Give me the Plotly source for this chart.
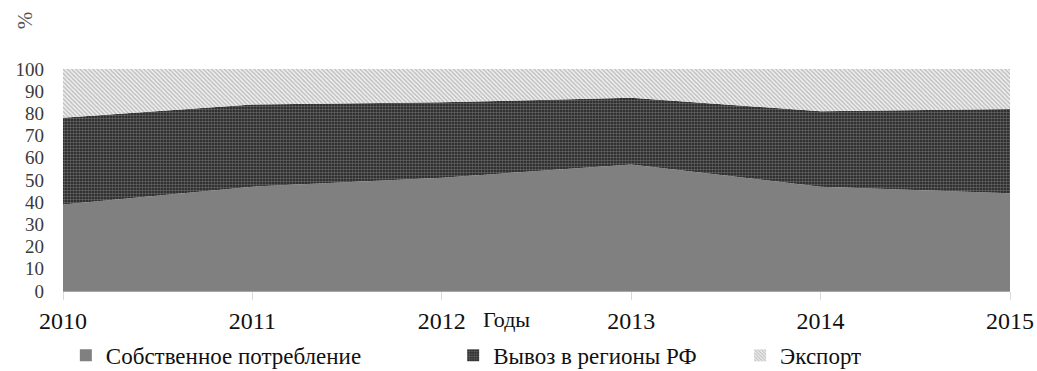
import plotly.graph_objects as go

# Structure of shipments by year, percent of total
years = [2010, 2011, 2012, 2013, 2014, 2015]
own_use = [39, 47, 51, 57, 47, 44]          # Собственное потребление
to_regions = [39, 37, 34, 30, 34, 38]       # Вывоз в регионы РФ
export = [22, 16, 15, 13, 19, 18]           # Экспорт
y_ticks = list(range(0, 101, 10))

names = ["Собственное потребление", "Вывоз в регионы РФ", "Экспорт"]
series = [own_use, to_regions, export]
patterns = [
    dict(shape="", bgcolor="#808080", fgcolor="#808080"),
    dict(shape=".", bgcolor="#1c1c1c", fgcolor="#a8a8a8", size=3, solidity=0.55),
    dict(shape="\\", bgcolor="#f2f2f2", fgcolor="#8c8c8c", size=3, solidity=0.5),
]
fills = ["#808080", "#3c3c3c", "#c4c4c4"]

fig = go.Figure()
for name, vals, pat, col in zip(names, series, patterns, fills):
    fig.add_trace(go.Scatter(
        x=years, y=vals, name=name, stackgroup="one", mode="none",
        fillcolor=col, fillpattern=pat if pat["shape"] else None,
        showlegend=False, hoverinfo="skip",
    ))

# Legend swatches, one legend per entry so each can be placed freely
legend_ids = ["legend", "legend2", "legend3"]
for name, pat, col, lid in zip(names, patterns, fills, legend_ids):
    marker = dict(color=col, line=dict(width=0))
    if pat["shape"]:
        marker["pattern"] = pat
    fig.add_trace(go.Bar(x=[None], y=[None], name=name, marker=marker,
                         legend=lid, showlegend=True))

font_family = "Liberation Serif, Times New Roman, serif"
legend_common = dict(orientation="h", yanchor="middle", y=-0.29, xanchor="left",
                     bgcolor="rgba(0,0,0,0)", itemwidth=30,
                     font=dict(family=font_family, size=23, color="#111"))

fig.update_layout(
    width=1037, height=371,
    margin=dict(l=63, r=27, t=69, b=80, autoexpand=False),
    paper_bgcolor="white", plot_bgcolor="white",
    font=dict(family=font_family, color="#111"),
    xaxis=dict(
        range=[2010, 2015], tickvals=years, ticktext=[str(y) for y in years],
        showgrid=False, zeroline=False,
        showline=True, linecolor="#a6a6a6", linewidth=1,
        ticks="outside", ticklen=8, tickcolor="#d9d9d9",
        ticklabelstandoff=0,
        tickfont=dict(family=font_family, size=24, color="#111"),
    ),
    yaxis=dict(
        range=[0, 100], tickvals=y_ticks, showgrid=False, zeroline=False,
        showline=False, ticks="", ticklabelstandoff=18,
        tickfont=dict(family=font_family, size=19, color="#3a3a3a"),
    ),
    legend=dict(x=0.003, **legend_common),
    legend2=dict(x=0.412, **legend_common),
    legend3=dict(x=0.715, **legend_common),
    annotations=[
        dict(text="Годы", xref="paper", yref="paper", x=0.468, y=-0.13,
             xanchor="center", yanchor="middle", showarrow=False,
             font=dict(family=font_family, size=22, color="#111")),
        dict(text="%", xref="paper", yref="paper", x=-0.04, y=1.22,
             xanchor="center", yanchor="middle", textangle=-90, showarrow=False,
             font=dict(family=font_family, size=21, color="#555")),
    ],
)

fig.write_html("out.html")
